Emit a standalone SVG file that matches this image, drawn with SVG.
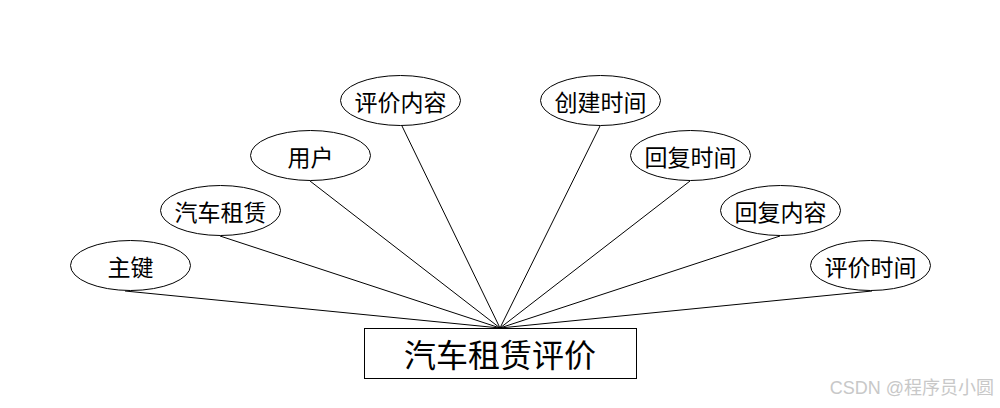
<svg xmlns="http://www.w3.org/2000/svg" width="1000" height="408" viewBox="0 0 1000 408">
<style>
.e{fill:#fff;stroke:#000;stroke-width:1}
.t{font-family:"Noto Sans CJK SC","Liberation Sans",sans-serif;font-size:23px;fill:#000;text-anchor:middle;dominant-baseline:central}
.c{stroke:#000;stroke-width:1;fill:none}
</style>
<rect width="1000" height="408" fill="#fff"/>
<g id="connectors">
<line class="c" x1="125" y1="291" x2="500" y2="328"/>
<line class="c" x1="220" y1="236" x2="500" y2="328"/>
<line class="c" x1="310" y1="181" x2="500" y2="328"/>
<line class="c" x1="402" y1="126" x2="500" y2="328"/>
<line class="c" x1="600" y1="126" x2="500" y2="328"/>
<line class="c" x1="690" y1="181" x2="500" y2="328"/>
<line class="c" x1="780" y1="236" x2="500" y2="328"/>
<line class="c" x1="872" y1="291" x2="500" y2="328"/>
</g>
<g id="entity">
<rect x="364.5" y="328.5" width="272" height="50" fill="#fff" stroke="#000"/>
<text x="500" y="353" class="t" style="font-size:32px">汽车租赁评价</text>
</g>
<g id="n1"><ellipse class="e" cx="130.5" cy="265.5" rx="60" ry="25"/><text class="t" x="130.5" y="265.5">主键</text></g>
<g id="n2"><ellipse class="e" cx="220.5" cy="210.5" rx="60" ry="25"/><text class="t" x="220.5" y="210.5">汽车租赁</text></g>
<g id="n3"><ellipse class="e" cx="310.5" cy="155.5" rx="60" ry="25"/><text class="t" x="310.5" y="155.5">用户</text></g>
<g id="n4"><ellipse class="e" cx="400.5" cy="100.5" rx="60" ry="25"/><text class="t" x="400.5" y="100.5">评价内容</text></g>
<g id="n5"><ellipse class="e" cx="600.5" cy="100.5" rx="60" ry="25"/><text class="t" x="600.5" y="100.5">创建时间</text></g>
<g id="n6"><ellipse class="e" cx="690.5" cy="155.5" rx="60" ry="25"/><text class="t" x="690.5" y="155.5">回复时间</text></g>
<g id="n7"><ellipse class="e" cx="780.5" cy="210.5" rx="60" ry="25"/><text class="t" x="780.5" y="210.5">回复内容</text></g>
<g id="n8"><ellipse class="e" cx="870.5" cy="265.5" rx="60" ry="25"/><text class="t" x="870.5" y="265.5">评价时间</text></g>
<text x="994" y="388" style="font-family:'Liberation Sans','Noto Sans CJK SC',sans-serif;font-size:18px;fill:#c8c8c8;text-anchor:end;dominant-baseline:central">CSDN @程序员小圆</text>
</svg>
